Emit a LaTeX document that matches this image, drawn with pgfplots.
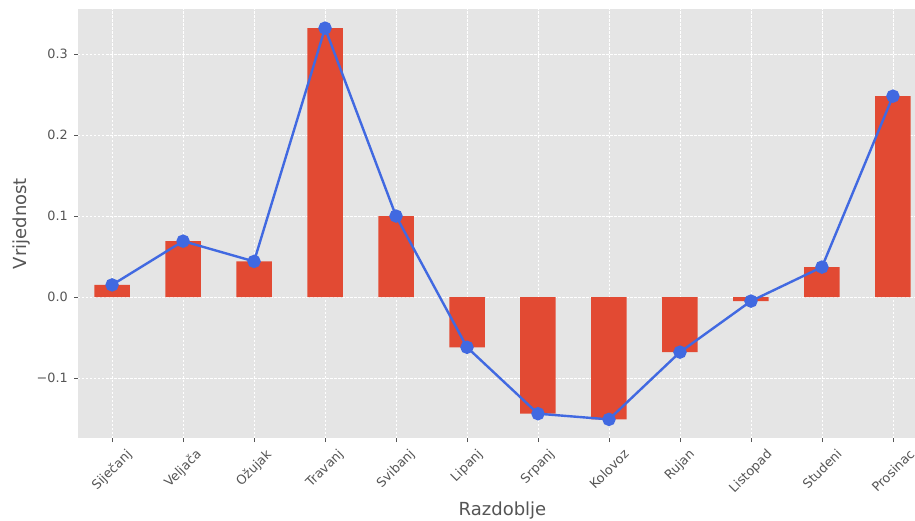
\documentclass[border=0pt]{standalone}
\usepackage{pgfplots}
\pgfplotsset{compat=1.18}
\usepackage{pgfplotstable}
\usepackage{fontspec}
\setmainfont{DejaVu Sans}
\usepackage{graphicx}
\usetikzlibrary{calc}
\definecolor{bgc}{HTML}{E5E5E5}
\definecolor{barc}{HTML}{E24A33}
\definecolor{linec}{HTML}{4169E1}
\definecolor{txt}{HTML}{555555}
\pgfplotstableread{
x y
0 0.015
1 0.069
2 0.044
3 0.332
4 0.100
5 -0.062
6 -0.144
7 -0.151
8 -0.068
9 -0.005
10 0.037
11 0.248
}\datatable
\begin{document}
\begin{tikzpicture}
\begin{axis}[name=ax, scale only axis, width=849pt, height=429pt,
  xmin=-0.48, xmax=11.48, ymin=-0.174, ymax=0.3556,
  axis background/.style={fill=bgc}, axis line style={draw=none},
  xtick={0,...,11},
  xticklabels={\rotatebox{45}{Siječanj},\rotatebox{45}{Veljača},\rotatebox{45}{Ožujak},\rotatebox{45}{Travanj},\rotatebox{45}{Svibanj},\rotatebox{45}{Lipanj},\rotatebox{45}{Srpanj},\rotatebox{45}{Kolovoz},\rotatebox{45}{Rujan},\rotatebox{45}{Listopad},\rotatebox{45}{Studeni},\rotatebox{45}{Prosinac}},
  ytick={-0.1,0,0.1,0.2,0.3}, yticklabels={−0.1,0.0,0.1,0.2,0.3},
  tick align=outside, major tick length=4pt, tick style={txt, line width=0.8pt},
  xtick pos=left, ytick pos=left,
  grid=major, grid style={white, dash pattern=on 2.5pt off 1.5pt, line width=0.7pt},
  ticklabel style={font=\fontsize{12.8}{14}\selectfont, text=txt},
  xticklabel style={anchor=north, inner sep=0pt, yshift=-6pt},
  yticklabel style={anchor=east, inner sep=0pt, xshift=-6pt},
  xlabel=Razdoblje, ylabel=Vrijednost,
  label style={font=\fontsize{18}{20}\selectfont, text=txt},
  xlabel style={at={(axis description cs:0.5,-0.17)}, anchor=center},
  ylabel style={at={(axis description cs:-0.067,0.5)}, anchor=center},
]
\addplot[ybar, bar width=35.5pt, fill=barc, draw=none] table[x=x,y=y]{\datatable};
\addplot[linec, line width=2.4pt, mark=*, mark size=5.5pt, mark options={fill=linec, draw=linec, solid}] table[x=x,y=y]{\datatable};
\end{axis}
\pgfresetboundingbox
\path[use as bounding box] ($(ax.south west)+(-78pt,-82pt)$) rectangle ($(ax.north west)+(837pt,9pt)$);
\end{tikzpicture}
\end{document}
